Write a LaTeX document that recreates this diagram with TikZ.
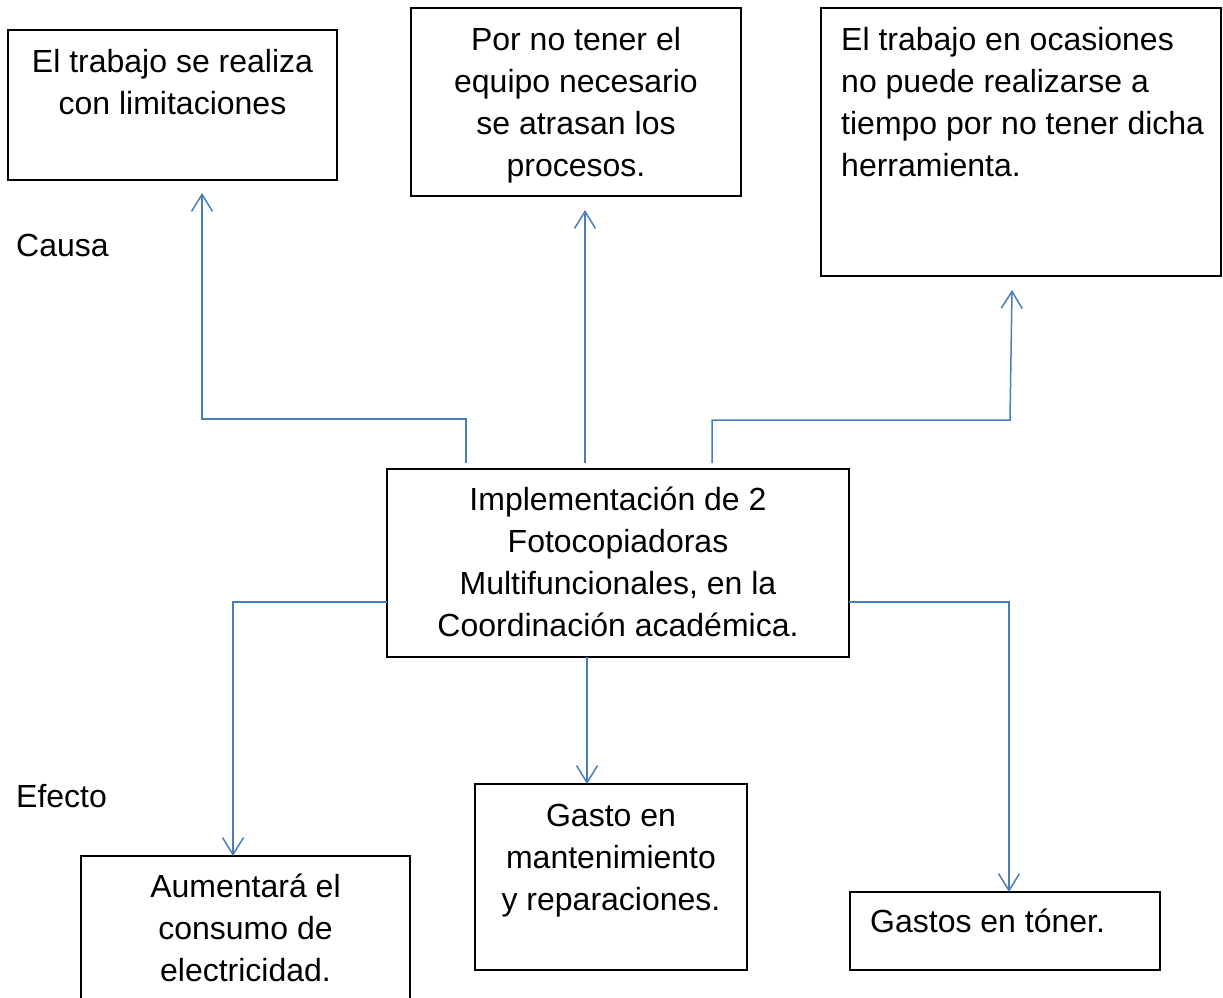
\documentclass[tikz,border=0pt]{standalone}
\usepackage{fontspec}
\setmainfont{Liberation Sans}
\usetikzlibrary{arrows.meta}
\newcommand\bigfs{\fontsize{32}{42}\selectfont}
\definecolor{connblue}{HTML}{4A7EBB}
\tikzset{
  box/.style={draw=black, line width=1.6pt, anchor=north west, inner sep=0pt, outer sep=0pt},
  txt/.style={font=\bigfs, inner sep=0pt, align=center, anchor=north, text=black},
  ltxt/.style={font=\bigfs, inner sep=0pt, align=left, anchor=north west, text=black},
  conn/.style={draw=connblue, line width=1.5pt, -{Straight Barb[length=17pt,width=21pt,line width=1.5pt]}},
  plain/.style={draw=connblue, line width=1.5pt}
}
\begin{document}
\begin{tikzpicture}[x=1pt,y=-1pt]
\useasboundingbox (0,0) rectangle (1223,997);
\clip (0,0) rectangle (1223,997);
% boxes
\node[box, minimum width=329pt, minimum height=150pt] (a) at (8,30) {};
\node[box, minimum width=330pt, minimum height=188pt] (b) at (411,8) {};
\node[box, minimum width=400pt, minimum height=268pt] (cc) at (821,8) {};
\node[box, minimum width=462pt, minimum height=188pt] (c) at (387,469) {};
\node[box, minimum width=329pt, minimum height=170pt] (bl) at (81,856) {};
\node[box, minimum width=272pt, minimum height=186pt] (bm) at (475,784) {};
\node[box, minimum width=310pt, minimum height=78pt] (br) at (850,892) {};
% texts
\node[txt] (ta) at (172.5,42.6) {\strut El trabajo se realiza\\con limitaciones};
\node[txt] (tb) at (576,20.6) {\strut Por no tener el\\equipo necesario\\se atrasan los\\procesos.};
\node[ltxt] (tcc) at (841,20.6) {\strut El trabajo en ocasiones\\no puede realizarse a\\tiempo por no tener dicha\\herramienta.};
\node[txt] (tc) at (618,480.6) {\strut Implementación de 2\\Fotocopiadoras\\Multifuncionales, en la\\Coordinación académica.};
\node[txt] (tbl) at (245.5,867.6) {\strut Aumentará el\\consumo de\\electricidad.};
\node[txt] (tbm) at (611,796.6) {\strut Gasto en\\mantenimiento\\y reparaciones.};
\node[ltxt] (tbr) at (870,902.6) {\strut Gastos en tóner.};
\node[ltxt] (causa) at (16,226.6) {\strut Causa};
\node[ltxt] (efecto) at (16,777.6) {\strut Efecto};
% cause connectors
\draw[conn] ([yshift=6pt]c.north -| 466,0) |- (202,419) -- ([yshift=-13pt]a.south -| 202,0);
\draw[conn] ([yshift=6pt]c.north -| 585,0) -- ([yshift=-14pt]b.south -| 585,0);
\draw[conn] ([yshift=6pt]c.north -| 712,0) |- (1010,420) -- ([yshift=-14pt]cc.south -| 1012,0);
% effect connectors
\draw[conn] (c.west |- 0,602) -| (bl.north -| 233,0);
\draw[conn] (c.south -| 587,0) -- (bm.north -| 587,0);
\draw[conn] (c.east |- 0,602) -| (br.north -| 1009,0);
\end{tikzpicture}
\end{document}
